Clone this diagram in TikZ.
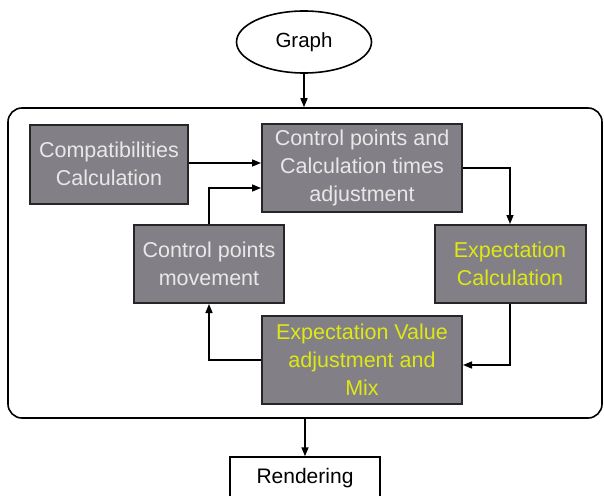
\documentclass[tikz,border=0pt]{standalone}
\usepackage{fontspec}
\setmainfont{Liberation Sans}
\usetikzlibrary{positioning,arrows.meta,calc,shapes.geometric}
\definecolor{boxgray}{RGB}{130,128,134}
\definecolor{txtlight}{RGB}{232,232,232}
\definecolor{txtyel}{RGB}{222,232,20}
\tikzset{
  arr/.style={-{Triangle[length=9pt,width=7pt]},line width=1.5pt},
  gbox/.style={rectangle,draw=black!85,fill=boxgray,line width=2pt,align=center,
    text=txtlight,font=\fontsize{21.5}{28}\selectfont,inner sep=0pt},
  ybox/.style={gbox,text=txtyel},
  wbox/.style={rectangle,draw=black,fill=white,line width=1.5pt,align=center,
    font=\fontsize{21}{26}\selectfont,inner sep=0pt},
  frm/.style={rectangle,draw=black,rounded corners=14pt,line width=1.6pt,inner sep=0pt},
}
\begin{document}
\begin{tikzpicture}[x=1pt,y=-1pt]
  \useasboundingbox (0,0) rectangle (604,495);
  % outer frame and the two end nodes
  \node[frm,minimum width=594pt,minimum height=310pt] (frame) at (305,263) {};
  \node[ellipse,draw,line width=1.6pt,minimum width=135pt,minimum height=62pt,
    font=\fontsize{20.5}{24}\selectfont,inner sep=0pt] (graph) at (304,42) {Graph};
  \node[wbox,minimum width=150pt,minimum height=42pt] (render) at (305,478) {Rendering};
  % loop boxes
  \node[gbox,minimum width=158pt,minimum height=79pt] (compat) at (109,164) {Compatibilities\\Calculation};
  \node[gbox,minimum width=200pt,minimum height=88pt] (ctrl) at (362,168) {Control points and\\Calculation times\\adjustment};
  \node[gbox,minimum width=150pt,minimum height=78pt] (move) at (209,264) {Control points\\movement};
  \node[ybox,minimum width=151pt,minimum height=78pt] (expc) at (510,264) {Expectation\\Calculation};
  \node[ybox,minimum width=200pt,minimum height=88pt] (evmix) at (362,360) {Expectation Value\\adjustment and\\Mix};
  % connectors
  \draw[arr] (graph) -- (frame.north -| graph);
  \draw[arr] (frame.south) -- (render.north);
  \draw[arr] (compat.east |- 0,163) -- (ctrl.west |- 0,163);
  \draw[arr] (move.north) |- ($(ctrl.west)+(0,20)$);
  \draw[arr] (ctrl.east) -| (expc.north);
  \draw[arr] (expc.south) |- ($(evmix.east)+(0,5)$);
  \draw[arr] (evmix.west) -| (move.south);
\end{tikzpicture}
\end{document}
